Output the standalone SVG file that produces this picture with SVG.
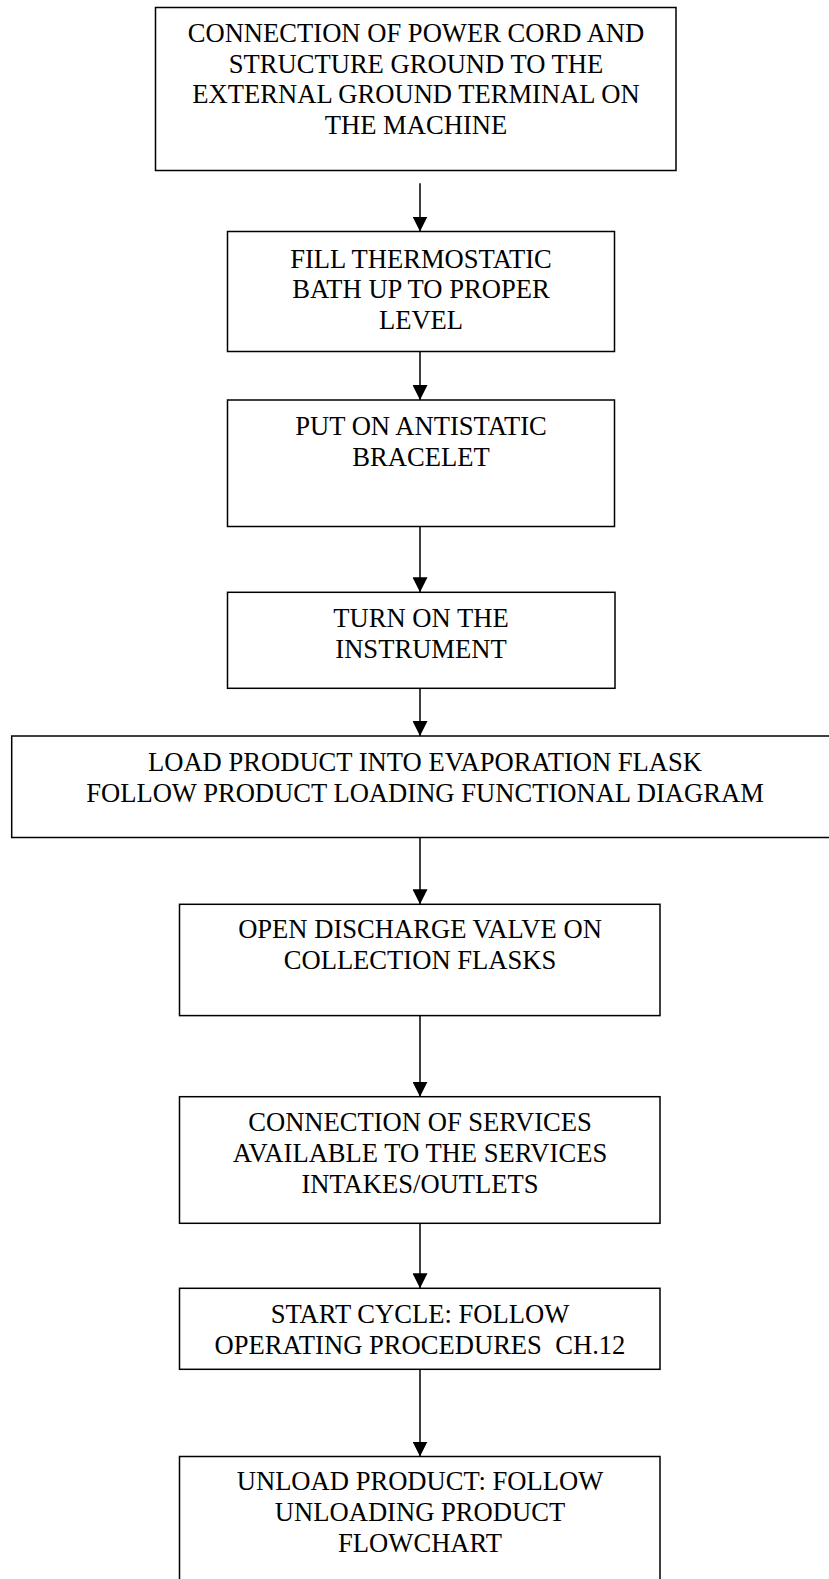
<svg xmlns="http://www.w3.org/2000/svg" width="829" height="1579" viewBox="0 0 829 1579">
<style>
.box{fill:#fff;stroke:#000;stroke-width:1.5}
.t{font-family:"Liberation Serif","Times New Roman",serif;font-size:26.6px;fill:#000;text-anchor:middle}
.c{stroke:#000;stroke-width:1.5;fill:none}
</style>
<defs>
<marker id="ah" markerUnits="userSpaceOnUse" viewBox="0 0 15 15" markerWidth="15" markerHeight="15" refX="15" refY="7.5" orient="auto">
<path d="M0,0 L15,7.5 L0,15 z" fill="#000"/>
</marker>
</defs>
<rect width="829" height="1579" fill="#fff"/>
<g id="connectors">
<line class="c" x1="420" y1="183.3" x2="420" y2="231.5" marker-end="url(#ah)"/>
<line class="c" x1="420" y1="351.7" x2="420" y2="400" marker-end="url(#ah)"/>
<line class="c" x1="420" y1="526.5" x2="420" y2="592.3" marker-end="url(#ah)"/>
<line class="c" x1="420" y1="688.3" x2="420" y2="736" marker-end="url(#ah)"/>
<line class="c" x1="420" y1="837.5" x2="420" y2="904.3" marker-end="url(#ah)"/>
<line class="c" x1="420" y1="1015.6" x2="420" y2="1096.7" marker-end="url(#ah)"/>
<line class="c" x1="420" y1="1223.3" x2="420" y2="1288.3" marker-end="url(#ah)"/>
<line class="c" x1="420" y1="1369.3" x2="420" y2="1456.5" marker-end="url(#ah)"/>
</g>
<g id="n1">
<rect class="box" x="155.5" y="7.5" width="520.5" height="163"/>
<text class="t" x="416" y="41.7">CONNECTION OF POWER CORD AND</text>
<text class="t" x="416" y="72.5">STRUCTURE GROUND TO THE</text>
<text class="t" x="416" y="103.2">EXTERNAL GROUND TERMINAL ON</text>
<text class="t" x="416" y="134">THE MACHINE</text>
</g>
<g id="n2">
<rect class="box" x="227.5" y="231.5" width="387" height="120"/>
<text class="t" x="421" y="267.7">FILL THERMOSTATIC</text>
<text class="t" x="421" y="298">BATH UP TO PROPER</text>
<text class="t" x="421" y="328.5">LEVEL</text>
</g>
<g id="n3">
<rect class="box" x="227.5" y="400" width="387" height="126.5"/>
<text class="t" x="421" y="435">PUT ON ANTISTATIC</text>
<text class="t" x="421" y="465.7">BRACELET</text>
</g>
<g id="n4">
<rect class="box" x="227.5" y="592.3" width="387.5" height="96"/>
<text class="t" x="421" y="627.3">TURN ON THE</text>
<text class="t" x="421" y="658">INSTRUMENT</text>
</g>
<g id="n5">
<rect class="box" x="11.7" y="736" width="830" height="101.5"/>
<text class="t" x="425" y="770.7">LOAD PRODUCT INTO EVAPORATION FLASK</text>
<text class="t" x="425" y="801.5">FOLLOW PRODUCT LOADING FUNCTIONAL DIAGRAM</text>
</g>
<g id="n6">
<rect class="box" x="179.5" y="904.3" width="480.5" height="111.3"/>
<text class="t" x="420" y="938.3">OPEN DISCHARGE VALVE ON</text>
<text class="t" x="420" y="969">COLLECTION FLASKS</text>
</g>
<g id="n7">
<rect class="box" x="179.5" y="1096.7" width="480.5" height="126.6"/>
<text class="t" x="420" y="1130.7">CONNECTION OF SERVICES</text>
<text class="t" x="420" y="1161.7">AVAILABLE TO THE SERVICES</text>
<text class="t" x="420" y="1192.5">INTAKES/OUTLETS</text>
</g>
<g id="n8">
<rect class="box" x="179.5" y="1288.3" width="480.5" height="81"/>
<text class="t" x="420" y="1322.7">START CYCLE: FOLLOW</text>
<text class="t" x="420" y="1353.5" xml:space="preserve" style="white-space:pre">OPERATING PROCEDURES  CH.12</text>
</g>
<g id="n9">
<rect class="box" x="179.5" y="1456.5" width="480.5" height="140"/>
<text class="t" x="420" y="1490">UNLOAD PRODUCT: FOLLOW</text>
<text class="t" x="420" y="1521">UNLOADING PRODUCT</text>
<text class="t" x="420" y="1552">FLOWCHART</text>
</g>
</svg>
